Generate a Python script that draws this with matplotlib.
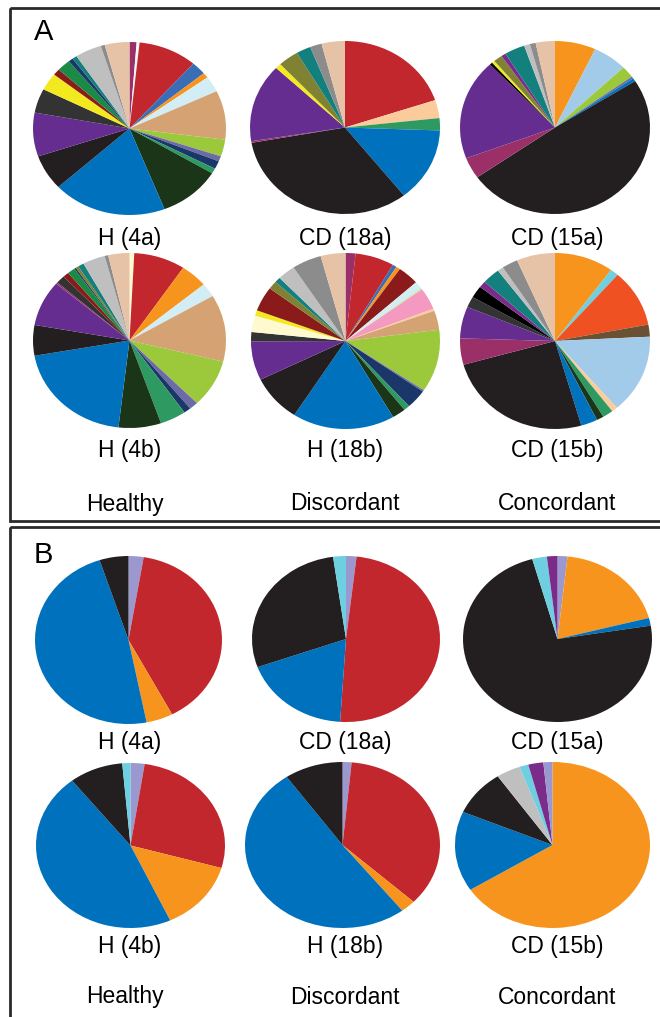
import matplotlib
matplotlib.use('Agg')
import matplotlib.pyplot as plt
from matplotlib.patches import Rectangle

plt.rcParams['font.family'] = ['Liberation Sans', 'DejaVu Sans']

# colour palette (taxa)
C = {
    'magenta': '#9B3068', 'paleblue': '#D3EDF5', 'red': '#C1272D', 'midblue': '#3A6DB6',
    'orange': '#F7941D', 'tan': '#D5A274', 'ygreen': '#9CC93B', 'lav': '#6C6BA8',
    'navy': '#1B3668', 'green': '#2E9A62', 'dkgreen': '#1A3517', 'blue': '#0071BC',
    'black': '#231F20', 'purple': '#662D91', 'dkgray': '#333333', 'yellow': '#F2EA1F',
    'dkred': '#8B1A1A', 'green2': '#1B8A45', 'teal': '#13807E', 'ltgray': '#BFBFBF',
    'gray': '#8C8C8C', 'peach': '#E6C3A7', 'olive': '#7F8232', 'ltpeach': '#FBCB9C',
    'sky': '#A2CBEA', 'orred': '#F05123', 'brown': '#6B5133', 'pink': '#F49AC1',
    'cream': '#FFF9D0', 'cyan': '#6ECFE0', 'purple2': '#7B2C8A', 'pureblack': '#000000',
    'palegreen': '#CDEBC8', 'lavB': '#9B98CF', 'white': '#F2F8FB',
}

# ---- panel A : all taxa ----
a_h4a_cols = ['magenta', 'white', 'red', 'midblue', 'orange', 'paleblue', 'tan', 'ygreen', 'lav',
              'navy', 'green', 'dkgreen', 'blue', 'black', 'purple', 'dkgray', 'yellow', 'dkred',
              'green2', 'navy', 'teal', 'ltgray', 'gray', 'peach']
a_h4a_vals = [1.2, 0.5, 10, 2.5, 1, 3, 9.3, 3.2, 1, 1.5, 1, 10.6, 19.4, 6.7, 8.3, 4.6, 3.3, 1.2,
              2.3, 0.8, 0.8, 4.5, 0.7, 4.2]

a_cd18a_cols = ['red', 'ltpeach', 'green', 'blue', 'black', 'magenta', 'purple', 'yellow', 'olive',
                'teal', 'gray', 'peach']
a_cd18a_vals = [20, 3.4, 2.3, 13.9, 33, 0.3, 14.7, 1, 3.5, 2.5, 2, 4]

a_cd15a_cols = ['orange', 'sky', 'ygreen', 'lav', 'blue', 'black', 'magenta', 'purple', 'pureblack',
                'yellow', 'olive', 'purple2', 'teal', 'ltgray', 'gray', 'peach']
a_cd15a_vals = [7, 5.9, 2.2, 0.4, 0.6, 49.6, 4, 18.9, 0.5, 0.5, 1.5, 0.8, 3.5, 1, 1, 3.3]

a_h4b_cols = ['cream', 'red', 'orange', 'paleblue', 'tan', 'ygreen', 'lav', 'navy', 'green',
              'dkgreen', 'blue', 'black', 'purple', 'magenta', 'dkgray', 'dkred', 'green2', 'navy',
              'olive', 'teal', 'ltgray', 'gray', 'peach']
a_h4b_vals = [0.8, 8.7, 4.6, 2.6, 12.5, 8.9, 1.5, 1.2, 4.4, 7.2, 20.6, 5.7, 8.5, 0.3, 1.5, 1, 1.3,
              0.3, 0.5, 1, 3.8, 0.6, 3.6]

a_h18b_cols = ['magenta', 'red', 'midblue', 'orange', 'dkred', 'paleblue', 'palegreen', 'pink',
               'ltpeach', 'tan', 'ygreen', 'lav', 'navy', 'green', 'dkgreen', 'blue', 'black',
               'purple', 'dkgray', 'cream', 'yellow', 'dkred', 'olive', 'teal', 'ltgray', 'gray',
               'peach']
a_h18b_vals = [1.7, 6.6, 0.7, 0.7, 3.6, 1.2, 0.4, 4, 0.4, 3.5, 11.4, 0.3, 3.5, 1, 2.3, 17.4, 8.6,
               7.1, 1.7, 3, 1, 4.5, 1.5, 1, 3, 5, 4.2]

a_cd15b_cols = ['orange', 'cyan', 'orred', 'brown', 'sky', 'ltpeach', 'green', 'dkgreen', 'blue',
                'black', 'magenta', 'purple', 'dkgray', 'pureblack', 'purple2', 'teal', 'ltgray',
                'gray', 'peach']
a_cd15b_vals = [10, 1.4, 10.5, 2.2, 14.4, 1, 1.8, 1.2, 2.8, 25, 4.8, 5.8, 2, 2.2, 1.2, 3, 1, 2.7, 6.5]

# ---- panel B : major groups ----
b_h4a_cols = ['lavB', 'red', 'orange', 'blue', 'black']
b_h4a_vals = [2.6, 39.6, 4.6, 48, 5]
b_cd18a_cols = ['lavB', 'red', 'blue', 'black', 'cyan']
b_cd18a_vals = [1.8, 49.2, 18.5, 28.3, 2.2]
b_cd15a_cols = ['lavB', 'orange', 'blue', 'black', 'cyan', 'purple2']
b_cd15a_vals = [1.7, 19.2, 1.5, 73.2, 2.5, 1.8]
b_h4b_cols = ['lavB', 'red', 'orange', 'blue', 'black', 'cyan']
b_h4b_vals = [2.4, 27, 13.7, 46.3, 9.2, 1.4]
b_h18b_cols = ['lavB', 'red', 'orange', 'blue', 'black']
b_h18b_vals = [1.5, 35.5, 2.5, 50.8, 9.7]
b_cd15b_cols = ['orange', 'blue', 'black', 'ltgray', 'cyan', 'purple2', 'lavB']
b_cd15b_vals = [66, 15.6, 9, 4, 1.5, 2.5, 1.5]

sample_labels = ['H (4a)', 'CD (18a)', 'CD (15a)', 'H (4b)', 'H (18b)', 'CD (15b)']
group_labels = ['Healthy', 'Discordant', 'Concordant']

W, H = 660, 1017
fig = plt.figure(figsize=(W / 100, H / 100), dpi=100)
bg = fig.add_axes([0, 0, 1, 1])
bg.set_xlim(0, W)
bg.set_ylim(H, 0)
bg.axis('off')

# panel frames
bg.add_patch(Rectangle((10, 8), 680, 513, fill=False, lw=2, ec='#2a2a2a'))
bg.add_patch(Rectangle((10, 527), 680, 520, fill=False, lw=2, ec='#2a2a2a'))
bg.text(34, 32, 'A', fontsize=21, va='center', ha='left')
bg.text(34, 555, 'B', fontsize=21, va='center', ha='left')


def draw_pie(box, vals, cols):
    x0, y0, x1, y1 = box
    ax = fig.add_axes([x0 / W, 1 - y1 / H, (x1 - x0) / W, (y1 - y0) / H])
    ax.pie(vals, colors=[C[c] for c in cols], startangle=90, counterclock=False,
           wedgeprops=dict(linewidth=0))
    ax.set_aspect('auto')
    ax.set_xlim(-1.0, 1.0)
    ax.set_ylim(-1.0, 1.0)
    ax.axis('off')


a_boxes = [(33, 42, 226, 215), (250, 41, 440, 214), (460, 41, 650, 214),
           (33, 253, 226, 428), (251, 253, 440, 429), (460, 253, 650, 429)]
a_data = [(a_h4a_vals, a_h4a_cols), (a_cd18a_vals, a_cd18a_cols), (a_cd15a_vals, a_cd15a_cols),
          (a_h4b_vals, a_h4b_cols), (a_h18b_vals, a_h18b_cols), (a_cd15b_vals, a_cd15b_cols)]
for box, (v, c) in zip(a_boxes, a_data):
    draw_pie(box, v, c)

b_boxes = [(35, 556, 222, 724), (252, 556, 440, 722), (463, 556, 652, 722),
           (36, 763, 225, 928), (245, 762, 440, 928), (455, 762, 650, 928)]
b_data = [(b_h4a_vals, b_h4a_cols), (b_cd18a_vals, b_cd18a_cols), (b_cd15a_vals, b_cd15a_cols),
          (b_h4b_vals, b_h4b_cols), (b_h18b_vals, b_h18b_cols), (b_cd15b_vals, b_cd15b_cols)]
for box, (v, c) in zip(b_boxes, b_data):
    draw_pie(box, v, c)

# labels
fs = 16.5
xs = [130, 345, 557]
for i, lab in enumerate(sample_labels):
    bg.text(xs[i % 3], 238 if i < 3 else 451, lab, fontsize=fs, ha='center', va='center')
    bg.text(xs[i % 3], 743 if i < 3 else 946, lab, fontsize=fs, ha='center', va='center')
for i, lab in enumerate(group_labels):
    bg.text(xs[i] - 5 if i == 0 else xs[i], 504, lab, fontsize=fs, ha='center', va='center')
    bg.text(xs[i] - 5 if i == 0 else xs[i], 997, lab, fontsize=fs, ha='center', va='center')

fig.savefig('out.png', dpi=100)
